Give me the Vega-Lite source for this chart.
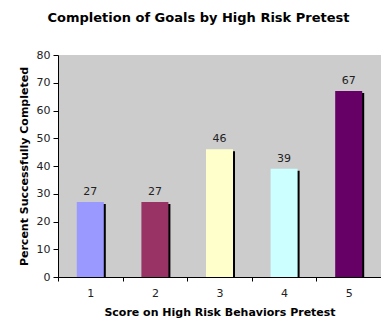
{
  "$schema": "https://vega.github.io/schema/vega-lite/v6.json",
  "autosize": "none",
  "width": 323,
  "height": 222,
  "padding": {"left": 58, "top": 55, "right": 0, "bottom": 41},
  "background": "white",
  "title": {
    "text": "Completion of Goals by High Risk Pretest",
    "font": "DejaVu Sans",
    "fontSize": 13,
    "fontWeight": "bold",
    "color": "#000000",
    "anchor": "middle",
    "frame": "group",
    "dx": -21,
    "offset": 24
  },
  "config": {
    "view": {"fill": "#CCCCCC", "stroke": null},
    "font": "DejaVu Sans"
  },
  "data": {
    "values": [
      {"score": "1", "pct": 27, "color": "#9999FF"},
      {"score": "2", "pct": 27, "color": "#993366"},
      {"score": "3", "pct": 46, "color": "#FFFFCC"},
      {"score": "4", "pct": 39, "color": "#CCFFFF"},
      {"score": "5", "pct": 67, "color": "#660066"}
    ]
  },
  "encoding": {
    "x": {
      "field": "score",
      "type": "nominal",
      "sort": null,
      "scale": {"paddingInner": 0, "paddingOuter": 0},
      "axis": {
        "title": "Score on High Risk Behaviors Pretest",
        "titleFont": "DejaVu Sans",
        "titleFontSize": 11,
        "titleFontWeight": "bold",
        "titleColor": "#000000",
        "titlePadding": 8,
        "labelAngle": 0,
        "labelFontSize": 11,
        "labelColor": "#222222",
        "labelPadding": 6,
        "domainColor": "#000000",
        "tickColor": "#000000",
        "tickSize": 4,
        "tickBand": "extent",
        "grid": false
      }
    },
    "y": {
      "field": "pct",
      "type": "quantitative",
      "scale": {"domain": [0, 80], "nice": false},
      "axis": {
        "title": "Percent Successfully Completed",
        "titleFont": "DejaVu Sans",
        "titleFontSize": 11,
        "titleFontWeight": "bold",
        "titleColor": "#000000",
        "titlePadding": 7,
        "values": [0, 10, 20, 30, 40, 50, 60, 70, 80],
        "labelFontSize": 11,
        "labelColor": "#222222",
        "labelPadding": 3,
        "domainColor": "#000000",
        "tickColor": "#000000",
        "tickSize": 5,
        "grid": false
      }
    }
  },
  "layer": [
    {
      "mark": {"type": "bar", "size": 27, "color": "#000000", "xOffset": 2, "yOffset": 2, "clip": true}
    },
    {
      "mark": {"type": "bar", "size": 27},
      "encoding": {
        "color": {"field": "color", "type": "nominal", "scale": null, "legend": null}
      }
    },
    {
      "mark": {"type": "text", "baseline": "bottom", "dy": -5, "fontSize": 11, "color": "#222222"},
      "encoding": {"text": {"field": "pct", "type": "quantitative"}}
    }
  ]
}
